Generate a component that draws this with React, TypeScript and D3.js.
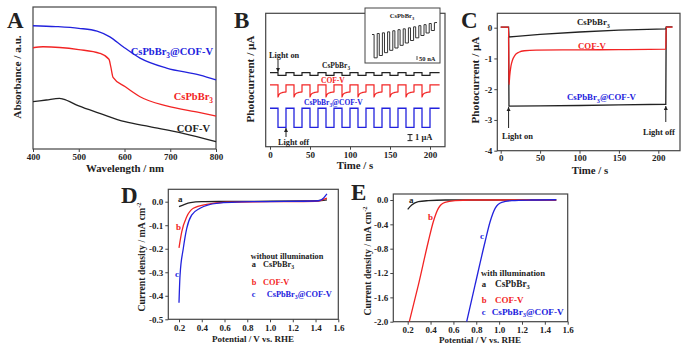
import React, { useEffect, useRef } from 'react';
import * as d3 from 'd3';

const W = 698;
const H = 353;
const SERIF = '"Liberation Serif", "Times New Roman", serif';
const BLUE = '#2222dd';
const RED = '#f22424';
const BLACK = '#222';

// ---- A: UV-vis absorbance (a.u.)
const absHybrid = [[400, 0.868], [450, 0.862], [500, 0.85], [540, 0.83], [568, 0.79], [597, 0.72], [634, 0.64], [692, 0.57], [765, 0.52], [800, 0.486]];
const absCsPbBr3 = [[400, 0.713], [422, 0.72], [500, 0.70], [546, 0.674], [566, 0.632], [570, 0.58], [575, 0.505], [601, 0.44], [634, 0.368], [692, 0.303], [765, 0.256], [800, 0.232]];
const absCOF = [[400, 0.333], [429, 0.345], [458, 0.357], [466, 0.352], [500, 0.303], [546, 0.251], [601, 0.192], [655, 0.157], [728, 0.11], [800, 0.051]];
const wlTicks = [400, 500, 600, 700, 800];

// ---- B: chopped photocurrent (uA, offset traces)
const lightOn = [10, 30, 50, 70, 90, 110, 130, 150, 170, 190];
const lightOff = [20, 40, 60, 80, 100, 120, 140, 160, 180, 200];
const bEnd = 212;
const bCsPbBr3 = { dark: 12.2, light: 11.75 };
const bHybrid = { dark: 6.34, light: 3.2 };
const bCOFdark = 10.18;
const bCOFlight = [[0, 8.2], [1, 8.55], [3, 8.8], [6, 8.95], [10, 9.05]]; // [dt, uA]
const timeTicks = [0, 50, 100, 150, 200];
// inset: CsPbBr3 magnified (nA)
const insetHigh = [330, 342, 350, 362, 375, 388, 398, 410, 422, 436, 448, 462];
const insetLow = [50, 78, 112, 140, 168, 200, 228, 258, 290, 318, 348, 378];

// ---- C: i-t curves (uA)
const cCsPbBr3 = [[0, 0.02], [10, 0.02], [10.5, -0.3], [20, -0.28], [50, -0.22], [100, -0.14], [150, -0.08], [209.5, -0.04], [210, 0.03], [218, 0.03]];
const cCOF = [[0, 0.02], [10, 0.02], [10.5, -1.85], [11.5, -1.55], [13, -1.25], [15, -1.05], [18, -0.9], [23, -0.8], [30, -0.75], [45, -0.73], [100, -0.72], [150, -0.715], [209.5, -0.7], [210, 0.02], [218, 0.02]];
const cHybrid = [[10, -0.3], [10.5, -2.55], [50, -2.54], [100, -2.53], [150, -2.51], [209.5, -2.49], [210, 0.0]];
const cYTicks = [0, -1, -2, -3, -4];

// ---- D: LSV without illumination (mA cm-2)
const dA = [[0.2, -0.021], [0.25, -0.011], [0.3, -0.004], [0.4, 0], [0.6, 0.001], [1.0, 0.002], [1.3, 0.003], [1.45, 0.005], [1.5, 0.008]];
const dB = [[0.2, -0.196], [0.224, -0.128], [0.268, -0.064], [0.326, -0.028], [0.443, -0.011], [0.62, -0.002], [1.0, 0], [1.4, 0.002], [1.45, 0.006], [1.5, 0.015]];
const dC = [[0.2, -0.43], [0.209, -0.314], [0.238, -0.198], [0.268, -0.113], [0.311, -0.057], [0.385, -0.028], [0.53, -0.007], [0.86, 0], [1.4, 0.003], [1.45, 0.008], [1.5, 0.033]];
const dYTicks = [0, -0.1, -0.2, -0.3, -0.4, -0.5];
const vTicks = [0.2, 0.4, 0.6, 0.8, 1.0, 1.2, 1.4, 1.6];

// ---- E: LSV with illumination (mA cm-2)
const eA = [[0.2, -0.153], [0.235, -0.082], [0.293, -0.027], [0.38, -0.01], [0.53, 0], [1.5, 0]];
const eB = [[0.214, -2.0], [0.293, -1.4], [0.38, -0.686], [0.424, -0.357], [0.468, -0.137], [0.526, -0.038], [0.614, -0.01], [0.75, 0], [1.5, 0]];
const eC = [[0.716, -2.0], [0.789, -1.4], [0.877, -0.686], [0.921, -0.357], [0.965, -0.137], [1.023, -0.038], [1.11, -0.01], [1.28, 0], [1.5, 0.004]];
const eYTicks = [0, -0.4, -0.8, -1.2, -1.6, -2.0];

type Sel = d3.Selection<any, unknown, null, undefined>;

function rich(g: Sel, x: number, y: number, s: string, size: number, color: string, anchor = 'start', rot = 0) {
  const t = g.append('text')
    .attr('x', x).attr('y', y)
    .attr('font-family', SERIF).attr('font-weight', 'bold')
    .attr('font-size', size).attr('fill', color)
    .attr('text-anchor', anchor);
  if (rot) t.attr('transform', `rotate(${rot},${x},${y})`);
  let shift = 0;
  s.split(/(_[^_]+_|\^[^\^]+\^)/).filter(p => p).forEach(p => {
    if (p[0] === '_') {
      const d = size * 0.3;
      t.append('tspan').attr('dy', d - shift).attr('font-size', size * 0.7).text(p.slice(1, -1));
      shift = d;
    } else if (p[0] === '^') {
      const d = -size * 0.4;
      t.append('tspan').attr('dy', d - shift).attr('font-size', size * 0.65).text(p.slice(1, -1));
      shift = d;
    } else {
      t.append('tspan').attr('dy', -shift).text(p);
      shift = 0;
    }
  });
  return t;
}

function frame(g: Sel, x0: number, x1: number, y0: number, y1: number) {
  g.append('rect').attr('x', x0).attr('y', y0).attr('width', x1 - x0).attr('height', y1 - y0)
    .attr('fill', 'none').attr('stroke', '#444').attr('stroke-width', 1.2);
}

function axis(g: Sel, ax: d3.Axis<any>, tx: number, ty: number) {
  const a = g.append('g').attr('transform', `translate(${tx},${ty})`).call(ax);
  a.select('.domain').remove();
  a.selectAll('line').attr('stroke', '#444');
  a.selectAll('text').attr('font-family', SERIF).attr('font-weight', 'bold')
    .attr('font-size', 9).attr('fill', BLACK);
  return a;
}

function path(g: Sel, pts: number[][], x: any, y: any, color: string, curve: any = d3.curveLinear, w = 1.3) {
  const line = d3.line<number[]>().x(d => x(d[0])).y(d => y(d[1])).curve(curve);
  g.append('path').attr('d', line(pts)).attr('fill', 'none').attr('stroke', color).attr('stroke-width', w);
}

function arrow(g: Sel, x: number, y0: number, y1: number) {
  g.append('line').attr('x1', x).attr('x2', x).attr('y1', y0).attr('y2', y1).attr('stroke', BLACK).attr('stroke-width', 1);
  const dir = y1 > y0 ? -1 : 1;
  g.append('path').attr('d', `M${x - 2},${y1 + dir * 4}L${x},${y1}L${x + 2},${y1 + dir * 4}Z`).attr('fill', BLACK);
}

function draw(svg: Sel) {
  svg.selectAll('*').remove();
  svg.append('rect').attr('width', W).attr('height', H).attr('fill', '#fff');
  const g = svg.append('g');

  // ===== A
  {
    const x = d3.scaleLinear().domain([400, 800]).range([33, 216]);
    const y = d3.scaleLinear().domain([0, 1]).range([149, 7]);
    frame(g, 33, 216, 7, 149);
    axis(g, d3.axisBottom(x).tickValues(wlTicks).tickSize(3).tickPadding(2).tickSizeOuter(0), 0, 149);
    path(g, absCOF, x, y, BLACK, d3.curveMonotoneX);
    path(g, absCsPbBr3, x, y, RED, d3.curveMonotoneX);
    path(g, absHybrid, x, y, BLUE, d3.curveMonotoneX);
    rich(g, 213, 55, 'CsPbBr_3_@COF-V', 10.5, BLUE, 'end');
    rich(g, 213, 100, 'CsPbBr_3_', 10.5, RED, 'end');
    rich(g, 210, 132, 'COF-V', 10.5, BLACK, 'end');
    rich(g, 21, 77, 'Absorbance / a.u.', 11.2, BLACK, 'middle', -90);
    rich(g, 125, 172, 'Wavelength / nm', 10.8, BLACK, 'middle');
    rich(g, 7, 28, 'A', 23, BLACK);
  }

  // ===== B
  {
    const x = d3.scaleLinear().domain([0, 200]).range([270, 430]);
    const y = d3.scaleLinear().domain([0, 22]).range([146.7, 13.3]);
    frame(g, 265.7, 445, 13.3, 146.7);
    axis(g, d3.axisBottom(x).tickValues(timeTicks).tickSize(3).tickPadding(2).tickSizeOuter(0), 0, 146.7);

    const square = (lv: { dark: number; light: number }) => {
      const pts: number[][] = [[0, lv.dark]];
      lightOn.forEach((t, i) => {
        pts.push([t, lv.dark], [t, lv.light], [lightOff[i], lv.light], [lightOff[i], lv.dark]);
      });
      pts.push([bEnd, lv.dark]);
      return pts;
    };
    const red: number[][] = [[0, bCOFdark]];
    lightOn.forEach((t, i) => {
      red.push([t, bCOFdark]);
      bCOFlight.forEach(([dt, v]) => red.push([t + dt, v]));
      red.push([lightOff[i], bCOFdark]);
    });
    red.push([bEnd, bCOFdark]);

    path(g, square(bCsPbBr3), x, y, BLACK, d3.curveLinear, 1.2);
    path(g, red, x, y, RED, d3.curveMonotoneX, 1.2);
    path(g, square(bHybrid), x, y, BLUE, d3.curveLinear, 1.3);

    rich(g, 322, 68, 'CsPbBr_3_', 7.5, BLACK);
    rich(g, 321, 83, 'COF-V', 7.5, RED);
    rich(g, 304, 105, 'CsPbBr_3_@COF-V', 7.5, BLUE);
    rich(g, 269, 58, 'Light on', 8.3, BLACK);
    arrow(g, x(10), 60, 72);
    rich(g, 278, 145, 'Light off', 8.3, BLACK);
    arrow(g, x(20), 137, 128);
    // 1 uA scale bar
    const sbx = 410;
    const sb0 = y(2.0), sb1 = y(1.0);
    g.append('line').attr('x1', sbx).attr('x2', sbx).attr('y1', sb0).attr('y2', sb1).attr('stroke', BLACK).attr('stroke-width', 1);
    [sb0, sb1].forEach(v => g.append('line').attr('x1', sbx - 2.5).attr('x2', sbx + 2.5).attr('y1', v).attr('y2', v).attr('stroke', BLACK));
    rich(g, 415, 140, '1 μA', 8.5, BLACK);

    // inset
    g.append('rect').attr('x', 365).attr('y', 8).attr('width', 75).attr('height', 55)
      .attr('fill', '#fff').attr('stroke', '#444').attr('stroke-width', 1);
    const ix = d3.scaleLinear().domain([0, 25]).range([372, 437]);
    const iy = d3.scaleLinear().domain([0, 600]).range([62, 12]);
    const ipts: number[][] = [[0, insetHigh[0]]];
    insetHigh.forEach((h, i) => {
      ipts.push([2 * i, h], [2 * i + 0.8, h], [2 * i + 0.8, insetLow[i]], [2 * i + 2, insetLow[i]], [2 * i + 2, i < insetHigh.length - 1 ? insetHigh[i + 1] : h + 10]);
    });
    ipts.push([25, insetHigh[insetHigh.length - 1] + 12]);
    path(g, ipts, ix, iy, '#333', d3.curveLinear, 1);
    rich(g, 402, 18, 'CsPbBr_3_', 6.5, BLACK, 'middle');
    g.append('line').attr('x1', 417).attr('x2', 417).attr('y1', 56).attr('y2', 60).attr('stroke', BLACK).attr('stroke-width', 0.8);
    rich(g, 419, 61, '50 nA', 6.5, BLACK);

    rich(g, 254, 79, 'Photocurrent / μA', 11.2, BLACK, 'middle', -90);
    rich(g, 355, 169, 'Time / s', 10.8, BLACK, 'middle');
    rich(g, 234, 28, 'B', 23, BLACK);
  }

  // ===== C
  {
    const x = d3.scaleLinear().domain([0, 200]).range([500.7, 658.3]);
    const y = d3.scaleLinear().domain([-4, 0]).range([150.7, 27.7]);
    frame(g, 497.3, 680, 13.3, 150.7);
    axis(g, d3.axisBottom(x).tickValues(timeTicks).tickSize(3).tickPadding(1).tickSizeOuter(0), 0, 150.7);
    axis(g, d3.axisLeft(y).tickValues(cYTicks).tickSize(3).tickPadding(2).tickSizeOuter(0).tickFormat(d => String(d)), 497.3, 0);
    path(g, cHybrid, x, y, BLACK, d3.curveLinear, 1.3);
    path(g, cCsPbBr3, x, y, BLACK, d3.curveLinear, 1.3);
    path(g, cCOF, x, y, RED, d3.curveMonotoneX, 1.3);
    rich(g, 577, 25, 'CsPbBr_3_', 8.8, BLACK);
    rich(g, 578, 49, 'COF-V', 8.8, RED);
    rich(g, 567, 100, 'CsPbBr_3_@COF-V', 8.8, BLUE);
    rich(g, 502, 139, 'Light on', 8.5, BLACK);
    arrow(g, x(10), 128, 107);
    rich(g, 643, 135, 'Light off', 8.5, BLACK);
    arrow(g, x(209.5), 122, 106);
    rich(g, 479, 80, 'Photocurrent / μA', 11.2, BLACK, 'middle', -90);
    rich(g, 590, 173.5, 'Time / s', 10.8, BLACK, 'middle');
    rich(g, 461, 28, 'C', 23, BLACK);
  }

  // ===== D
  {
    const x = d3.scaleLinear().domain([0.2, 1.6]).range([179, 338.3]);
    const y = d3.scaleLinear().domain([-0.5, 0]).range([319.3, 201.7]);
    frame(g, 168.3, 338.3, 189.3, 319.3);
    axis(g, d3.axisBottom(x).tickValues(vTicks).tickSize(3).tickPadding(2).tickSizeOuter(0).tickFormat(d => (+d).toFixed(1)), 0, 319.3);
    axis(g, d3.axisLeft(y).tickValues(dYTicks).tickSize(3).tickPadding(2).tickSizeOuter(0).tickFormat(d => (+d).toFixed(1)), 168.3, 0);
    path(g, dA, x, y, BLACK, d3.curveMonotoneX);
    path(g, dB, x, y, RED, d3.curveMonotoneX);
    path(g, dC, x, y, BLUE, d3.curveMonotoneX);
    rich(g, 178, 202, 'a', 9, BLACK);
    rich(g, 176, 230, 'b', 9, RED);
    rich(g, 175, 277, 'c', 9, BLUE);
    rich(g, 250.7, 258.5, 'without illumination', 8.3, BLACK);
    rich(g, 251.7, 267, 'a', 8.3, BLACK);
    rich(g, 263, 267, 'CsPbBr_3_', 8.3, BLACK);
    rich(g, 251.7, 284.5, 'b', 8.3, RED);
    rich(g, 263, 284.5, 'COF-V', 8.3, RED);
    rich(g, 251.7, 296.5, 'c', 8.3, BLUE);
    rich(g, 266.7, 296.5, 'CsPbBr_3_@COF-V', 8.3, BLUE);
    rich(g, 145, 257, 'Current density / mA cm^-2^', 9.8, BLACK, 'middle', -90);
    rich(g, 253, 342, 'Potential / V vs. RHE', 9, BLACK, 'middle');
    rich(g, 121, 203, 'D', 23, BLACK);
  }

  // ===== E
  {
    const x = d3.scaleLinear().domain([0.2, 1.6]).range([407.7, 567.7]);
    const y = d3.scaleLinear().domain([-2, 0]).range([321.7, 200]);
    frame(g, 393.3, 567.7, 194, 321.7);
    axis(g, d3.axisBottom(x).tickValues(vTicks).tickSize(3).tickPadding(2).tickSizeOuter(0).tickFormat(d => (+d).toFixed(1)), 0, 321.7);
    axis(g, d3.axisLeft(y).tickValues(eYTicks).tickSize(3).tickPadding(2).tickSizeOuter(0).tickFormat(d => (+d).toFixed(1)), 393.3, 0);
    path(g, eA, x, y, BLACK, d3.curveMonotoneX);
    path(g, eB, x, y, RED, d3.curveMonotoneX);
    path(g, eC, x, y, BLUE, d3.curveMonotoneX);
    rich(g, 409, 203, 'a', 9, BLACK);
    rich(g, 428, 219.5, 'b', 9, RED);
    rich(g, 480, 239, 'c', 9, BLUE);
    rich(g, 481, 275.5, 'with illumination', 8.7, BLACK);
    rich(g, 481.7, 286.5, 'a', 8.7, BLACK);
    rich(g, 495, 286.5, 'CsPbBr_3_', 9.3, BLACK);
    rich(g, 481.7, 303, 'b', 8.7, RED);
    rich(g, 495, 303, 'COF-V', 9, RED);
    rich(g, 481.7, 314.5, 'c', 8.7, BLUE);
    rich(g, 491.7, 314.5, 'CsPbBr_3_@COF-V', 9.2, BLUE);
    rich(g, 371, 261, 'Current density / mA cm^-2^', 9.8, BLACK, 'middle', -90);
    rich(g, 480, 343, 'Potential / V vs. RHE', 9, BLACK, 'middle');
    rich(g, 351, 200, 'E', 23, BLACK);
  }
}

export default function App() {
  const ref = useRef<SVGSVGElement>(null);
  useEffect(() => {
    if (ref.current) draw(d3.select(ref.current) as any);
  }, []);
  return (
    <svg ref={ref} width={W} height={H}
      style={{ position: 'absolute', left: 0, top: 0, display: 'block' }} />
  );
}
